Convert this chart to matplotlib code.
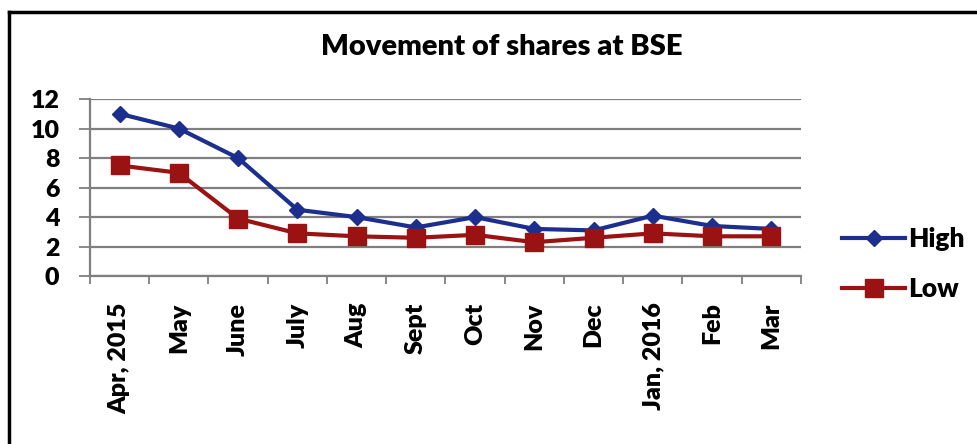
import matplotlib
matplotlib.use("Agg")
import matplotlib.pyplot as plt
from matplotlib.lines import Line2D

months = ["Apr, 2015", "May", "June", "July", "Aug", "Sept", "Oct",
          "Nov", "Dec", "Jan, 2016", "Feb", "Mar"]
high = [11, 10, 8, 4.5, 4, 3.3, 4, 3.2, 3.1, 4.1, 3.4, 3.2]
low = [7.5, 7, 3.9, 2.9, 2.7, 2.6, 2.8, 2.3, 2.6, 2.9, 2.7, 2.7]

blue = "#1c2f8e"
red = "#9a1212"
grid_col = "#7f7f7f"

plt.rcParams["font.family"] = ["Lato", "DejaVu Sans"]

fig = plt.figure(figsize=(9.78, 4.44), dpi=100)
ax = fig.add_axes([0.092, 0.378, 0.727, 0.399])

x = list(range(len(months)))
ax.plot(x, high, color=blue, lw=3, marker="D", ms=8, label="High", zorder=3)
ax.plot(x, low, color=red, lw=3, marker="s", ms=13, label="Low", zorder=3)

ax.set_xlim(-0.5, len(months) - 0.5)
ax.set_ylim(0, 12)
ax.set_yticks(range(0, 13, 2))
ax.set_yticklabels([str(v) for v in range(0, 13, 2)], fontsize=18, fontweight="heavy")
ax.yaxis.grid(True, color=grid_col, lw=1.6)
ax.set_axisbelow(True)

# category labels centred, ticks between categories
ax.set_xticks([i - 0.5 for i in range(len(months) + 1)])
ax.set_xticklabels([])
ax.set_xticks(x, minor=True)
ax.set_xticklabels(months, minor=True, rotation=90, fontsize=18, fontweight="heavy")
ax.tick_params(axis="x", which="minor", length=0, pad=19)
ax.tick_params(axis="x", which="major", length=6, color=grid_col, width=1.3)
ax.tick_params(axis="y", length=8, color=grid_col, width=1.3, pad=14)

for s in ["top", "right"]:
    ax.spines[s].set_visible(False)
for s in ["left", "bottom"]:
    ax.spines[s].set_color(grid_col)
    ax.spines[s].set_linewidth(1.6)

fig.text(0.513, 0.895, "Movement of shares at BSE", ha="center", va="center",
         fontsize=21, fontweight="heavy")

handles = [Line2D([], [], color=blue, lw=3, marker="D", ms=8),
           Line2D([], [], color=red, lw=3, marker="s", ms=13)]
fig.legend(handles, ["High", "Low"], loc="center left", bbox_to_anchor=(0.861, 0.405),
           frameon=False, prop={"weight": "heavy", "size": 19},
           handlelength=2.4, handletextpad=0.1, labelspacing=1.0,
           borderpad=0, borderaxespad=0)

# border fragment (top and left) of the original frame
fig.add_artist(plt.Line2D([0.009, 1.0], [0.974, 0.974], color="black", lw=2.5,
                          transform=fig.transFigure))
fig.add_artist(plt.Line2D([0.009, 0.009], [0.0, 0.974], color="black", lw=2.5,
                          transform=fig.transFigure))

fig.savefig("out.png", dpi=100)
